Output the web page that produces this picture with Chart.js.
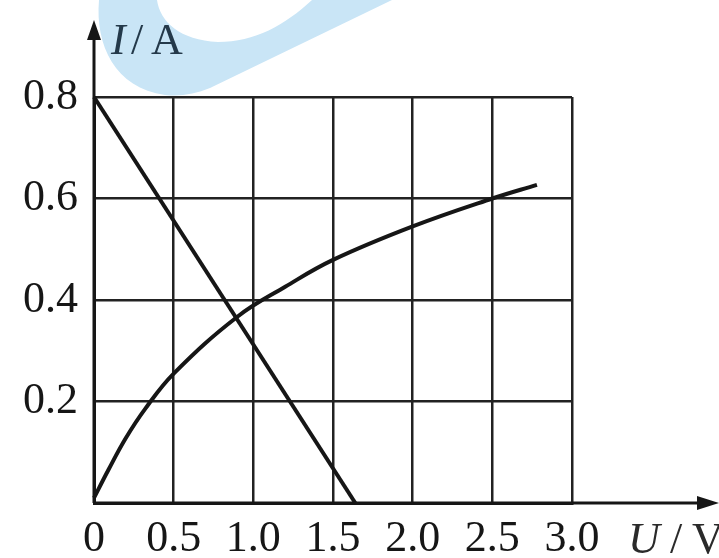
<!DOCTYPE html>
<html>
<head>
<meta charset="utf-8">
<script src="https://cdn.jsdelivr.net/npm/chart.js@4.4.1/dist/chart.umd.min.js"></script>
<style>
  html, body { margin: 0; padding: 0; background: #fff; }
  #wrap { width: 719px; height: 558px; }
</style>
</head>
<body>
<div id="wrap"><canvas id="chart" width="719" height="558"></canvas></div>
<script>
// Avläsningar från bilden (U i volt, I i ampere)
const lineU = [0, 1.64];
const lineI = [0.8, 0];

const curveU = [0, 0.09, 0.2, 0.32, 0.5, 0.9, 1.2, 1.5, 2.0, 2.5, 2.78];
const curveI = [0.01, 0.065, 0.128, 0.185, 0.255, 0.367, 0.426, 0.479, 0.545, 0.6, 0.627];

const xTicks = [0, 0.5, 1.0, 1.5, 2.0, 2.5, 3.0];
const yTicks = [0, 0.2, 0.4, 0.6, 0.8];

const toPoints = (xs, ys) => xs.map((x, i) => ({ x: x, y: ys[i] }));

const ink = '#161616';
const serif = '"Liberation Serif", "DejaVu Serif", serif';

// Pilar, axeltitlar och vattenstämpel
const decorations = {
    id: 'decorations',
    beforeDraw(chart) {
        const ctx = chart.ctx;
        ctx.save();
        // ljusblå vattenstämpel
        ctx.fillStyle = '#c9e5f6';
        ctx.beginPath();
        ctx.moveTo(99, 0);
        ctx.bezierCurveTo(95, 45, 115, 88, 165, 95);
        ctx.bezierCurveTo(180, 97, 195, 94, 210, 88);
        ctx.lineTo(392, 0);
        ctx.lineTo(312, 0);
        ctx.bezierCurveTo(285, 25, 255, 42, 218, 42);
        ctx.bezierCurveTo(180, 40, 160, 22, 157, 0);
        ctx.closePath();
        ctx.fill();
        ctx.restore();
    },
    afterDraw(chart) {
        const ctx = chart.ctx;
        const x = chart.scales.x;
        const y = chart.scales.y;
        const x0 = x.getPixelForValue(0);
        const y0 = y.getPixelForValue(0);
        ctx.save();
        ctx.strokeStyle = ink;
        ctx.fillStyle = ink;
        ctx.lineWidth = 3;
        // y-axel upp till pilen
        ctx.beginPath();
        ctx.moveTo(x0, y0);
        ctx.lineTo(x0, 30);
        ctx.stroke();
        ctx.beginPath();
        ctx.moveTo(x0, 20);
        ctx.lineTo(x0 - 7, 40);
        ctx.lineTo(x0 + 7, 40);
        ctx.closePath();
        ctx.fill();
        // x-axel ut till pilen
        ctx.beginPath();
        ctx.moveTo(x0, y0);
        ctx.lineTo(706, y0);
        ctx.stroke();
        ctx.beginPath();
        ctx.moveTo(719, y0);
        ctx.lineTo(697, y0 - 7);
        ctx.lineTo(697, y0 + 7);
        ctx.closePath();
        ctx.fill();

        // axeltitlar
        ctx.textBaseline = 'alphabetic';
        ctx.fillStyle = '#24394a';
        ctx.font = 'italic 44px ' + serif;
        ctx.fillText('I', 111, 54);
        ctx.font = '44px ' + serif;
        ctx.fillText('/', 131, 54);
        ctx.fillText('A', 151, 54);

        ctx.fillStyle = '#2a2a2a';
        ctx.font = 'italic 44px ' + serif;
        ctx.fillText('U', 628, 553);
        ctx.font = '44px ' + serif;
        ctx.fillText('/', 670, 553);
        ctx.fillText('V', 692, 553);
        ctx.restore();
    }
};

new Chart(document.getElementById('chart'), {
    type: 'line',
    data: {
        datasets: [
            {
                data: toPoints(lineU, lineI),
                borderColor: ink,
                borderWidth: 4,
                pointRadius: 0,
                clip: false
            },
            {
                data: toPoints(curveU, curveI),
                borderColor: ink,
                borderWidth: 4,
                pointRadius: 0,
                tension: 0.4,
                clip: false
            }
        ]
    },
    options: {
        responsive: false,
        animation: false,
        events: [],
        layout: { padding: { left: 0, top: 97, right: 147, bottom: 0 } },
        plugins: { legend: { display: false }, tooltip: { enabled: false } },
        scales: {
            x: {
                type: 'linear',
                min: 0,
                max: 3,
                afterFit(scale) { scale.height = 55; },
                afterBuildTicks(scale) { scale.ticks = xTicks.map(v => ({ value: v })); },
                grid: { color: '#222', lineWidth: 2.5, drawTicks: false },
                border: { color: ink, width: 3 },
                ticks: {
                    padding: 10,
                    color: ink,
                    font: { family: serif, size: 44 },
                    maxRotation: 0,
                    autoSkip: false,
                    callback: v => v === 0 ? '0' : v.toFixed(1)
                }
            },
            y: {
                type: 'linear',
                min: 0,
                max: 0.8,
                afterFit(scale) { scale.width = 94; },
                afterBuildTicks(scale) { scale.ticks = yTicks.map(v => ({ value: v })); },
                grid: { color: '#222', lineWidth: 2.5, drawTicks: false },
                border: { color: ink, width: 3 },
                ticks: {
                    padding: 16,
                    color: ink,
                    font: { family: serif, size: 44 },
                    autoSkip: false,
                    callback: v => v === 0 ? '' : v.toFixed(1)
                }
            }
        }
    },
    plugins: [decorations]
});
</script>
</body>
</html>
